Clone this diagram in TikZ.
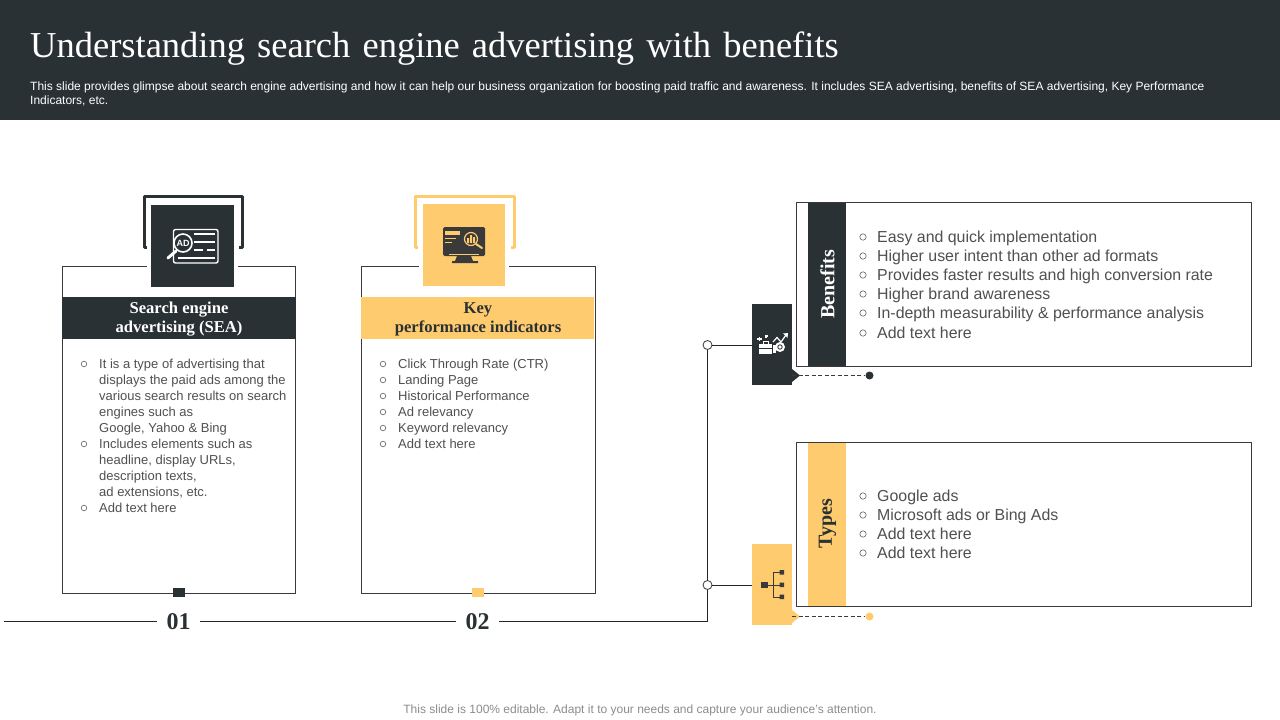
\documentclass[tikz,border=0pt]{standalone}
\usepackage{fontspec}
\setmainfont{Liberation Serif}
\setsansfont{Liberation Sans}
\definecolor{slate}{HTML}{293134}
\definecolor{honey}{HTML}{FFCB6F}
\definecolor{ink}{HTML}{3A3A3A}
\definecolor{bodygrey}{HTML}{505050}
\tikzset{
    panel/.style = {draw = ink, line width = 0.9pt, fill = white},
    bandtext/.style = {font = \rmfamily\bfseries\fontsize{16.6}{19}\selectfont, align = center, inner sep = 0pt},
    sidetext/.style = {font = \rmfamily\bfseries\fontsize{20}{22}\selectfont, rotate = 90, inner sep = 0pt},
    smalltext/.style = {font = \sffamily\fontsize{13}{14}\selectfont, text = bodygrey, anchor = base west, inner sep = 0pt},
    bigtext/.style = {font = \sffamily\fontsize{15.9}{18}\selectfont, text = bodygrey, anchor = base west, inner sep = 0pt},
    numtext/.style = {font = \rmfamily\bfseries\fontsize{24}{26}\selectfont, text = slate, minimum width = 43pt, inner sep = 0pt},
    joint/.style = {circle, draw = ink, fill = white, line width = 0.8pt, minimum size = 9pt, inner sep = 0pt},
    tip/.style = {circle, minimum size = 8pt, inner sep = 0pt},
    wire/.style = {draw = black!85, line width = 0.9pt},
    mark bullet/.style = {draw = ink!80, line width = 0.6pt}
}
\begin{document}
\begin{tikzpicture}[x=1pt, y=-1pt]
    \useasboundingbox (0,0) rectangle (1280,720);
    % header
    \fill[slate] (0,0) rectangle (1280,120);
    \node (title) at (30,49) [anchor = west, inner sep = 0pt, text = white, font = \fontsize{36.5}{40}\selectfont] {Understanding\hspace{3pt} search\hspace{3pt} engine\hspace{3pt} advertising\hspace{3pt} with\hspace{3pt} benefits};
    \node (intro) at (30,94) [anchor = west, inner sep = 0pt, text = white, align = left, font = \sffamily\fontsize{12}{14}\selectfont] {This slide provides glimpse about search engine advertising and how it can help our business organization for boosting paid traffic and awareness. It includes SEA advertising, benefits of SEA advertising, Key Performance\\Indicators, etc.};
    \node (foot) at (640,710) [inner sep = 0pt, text = black!45, font = \sffamily\fontsize{12}{14}\selectfont] {This slide is 100\% editable. Adapt it to your needs and capture your audience's attention.};

    % left cards
    \draw[slate, line width = 3pt, line join = round] (147,247) -- (144,247) -- (144,196) -- (242,196) -- (242,247) -- (239,247);
    \draw[honey, line width = 3pt, line join = round] (418,247) -- (415,247) -- (415,196) -- (514,196) -- (514,247) -- (511,247);
    \draw[panel] (62,266) rectangle (295.5,593.5);
    \draw[panel] (361.5,266) rectangle (595.5,593.5);
    \fill[white] (147,260) rectangle (238,290);
    \fill[white] (419,260) rectangle (509,290);
    \fill[slate] (151,205) rectangle (234,287);
    \fill[honey] (423,204) rectangle (505,286);
    \fill[slate] (62,297) rectangle (296,339);
    \fill[honey] (361,297) rectangle (594,339);
    \fill[slate] (173,588) rectangle (185,597);
    \fill[honey] (472,588) rectangle (484,597);
    \node (seaHead) at (179,319.5) [bandtext, text = white] {Search engine\\advertising (SEA)};
    \node (kpiHead) at (478,319.5) [bandtext, text = slate] {Key\\performance indicators};

    % ad icon
    \draw[white, line width = 1.4pt, rounded corners = 2pt] (173.5,229.5) rectangle (218,263);
    \draw[white, line width = 1.4pt] (194,234) -- (215,234) (194,242) -- (215,242) (194,250) -- (203,250) (207,250) -- (215,250) (178,258) -- (215,258);
    \draw[white, line width = 3pt, line cap = round] (176,251) -- (168,258);
    \draw[white, fill = slate, line width = 1.6pt] (183,243) circle (9);
    \node (adMark) at (183,243) [inner sep = 0pt, text = white, font = \sffamily\bfseries\fontsize{9}{9}\selectfont] {AD};

    % monitor icon
    \fill[ink, rounded corners = 1.5pt] (443,227) rectangle (485,256);
    \fill[ink] (457,256) -- (471,256) -- (473,261) -- (478,261) -- (478,263) -- (452,263) -- (452,261) -- (455,261) -- cycle;
    \fill[honey] (445,231) rectangle (460,235);
    \draw[honey, line width = 1pt] (445,238) -- (456,238) (445,242) -- (452,242) (449,254) -- (479,254);
    \draw[honey, line width = 1.2pt] (471,239) circle (6.5);
    \draw[honey, line width = 2pt, line cap = round] (476,244) -- (482,248);
    \fill[honey] (467,238) rectangle (469,243) (470,235) rectangle (472,243) (473,237) rectangle (475,243);

    % left texts
    \foreach \ypos in {364,444,508} \draw[mark bullet] (84,\ypos) circle (2.8);
    \foreach \ypos in {364,380,396,412,428,444} \draw[mark bullet] (383,\ypos) circle (2.8);
    \foreach \name/\ypos/\txt in {
        seaA/368/It is a type of advertising that,
        seaB/384/displays the paid ads among the,
        seaC/400/various search results on search,
        seaD/416/engines such as,
        seaE/432/{Google, Yahoo \& Bing},
        seaF/448/Includes elements such as,
        seaG/464/{headline, display URLs,},
        seaH/480/{description texts,},
        seaI/496/{ad extensions, etc.},
        seaJ/512/Add text here}
        \node (\name) at (99,\ypos) [smalltext] {\txt};
    \foreach \name/\ypos/\txt in {
        kpiA/368/Click Through Rate (CTR),
        kpiB/384/Landing Page,
        kpiC/400/Historical Performance,
        kpiD/416/Ad relevancy,
        kpiE/432/Keyword relevancy,
        kpiF/448/Add text here}
        \node (\name) at (398,\ypos) [smalltext] {\txt};

    % right cards
    \draw[panel] (796.5,202.5) rectangle (1251.5,366.5);
    \draw[panel] (796.5,442.5) rectangle (1251.5,606.5);
    \fill[slate] (808,203) rectangle (846,366);
    \fill[honey] (808,443) rectangle (846,606);
    \node (benefitsHead) at (827.5,284) [sidetext, text = white] {Benefits};
    \node (typesHead) at (827.5,524) [sidetext, text = slate] {Types};
    \foreach \ypos in {237,256,275,294,313,333,496,515,534,553} \draw[mark bullet] (863,\ypos) circle (3.2);
    \foreach \name/\ypos/\txt in {
        benA/242/Easy and quick implementation,
        benB/261/Higher user intent than other ad formats,
        benC/280/Provides faster results and high conversion rate,
        benD/299/Higher brand awareness,
        benE/318/In-depth measurability \& performance analysis,
        benF/338/Add text here,
        typA/501/Google ads,
        typB/520/Microsoft ads or Bing Ads,
        typC/539/Add text here,
        typD/558/Add text here}
        \node (\name) at (877,\ypos) [bigtext] {\txt};

    % timeline
    \coordinate (lineStart) at (4,621);
    \coordinate (lineCorner) at (707.5,621);
    \node (numA) at (178.5,621.5) [numtext] {01};
    \node (numB) at (477.5,621.5) [numtext] {02};
    \node (tileA) at (772,344.5) [fill = slate, minimum width = 40pt, minimum height = 81pt, inner sep = 0pt] {};
    \node (tileB) at (772,584.5) [fill = honey, minimum width = 40pt, minimum height = 81pt, inner sep = 0pt] {};
    \node (jointA) at (707.5,345) [joint] {};
    \node (jointB) at (707.5,585) [joint] {};
    \node (tipA) at (869.5,375.5) [tip, fill = slate] {};
    \node (tipB) at (869.5,616.5) [tip, fill = honey] {};
    \coordinate (tailA) at (792,375.5);
    \coordinate (tailB) at (792,616.5);
    \fill[slate] (792,369) -- (800,375.5) -- (792,382) -- cycle;
    \fill[honey] (792,610) -- (800,616.5) -- (792,623) -- cycle;
    \draw[wire] (lineStart) -- (lineStart -| numA.west);
    \draw[wire] (numA.east |- lineStart) -- (numB.west |- lineStart);
    \draw[wire] (numB.east |- lineStart) -- (lineCorner) -- (jointB);
    \draw[wire] (jointB) -- (jointA);
    \draw[wire] (jointA) -- (jointA -| tileA.west);
    \draw[wire] (jointB) -- (jointB -| tileB.west);
    \draw[ink, dashed, line width = 0.8pt, dash pattern = on 4pt off 2.5pt] (tailA) -- (tipA);
    \draw[ink, dashed, line width = 0.8pt, dash pattern = on 4pt off 2.5pt] (tailB) -- (tipB);

    % briefcase icon
    \fill[white] (759,344) rectangle (772,354);
    \draw[white, line width = 0.8pt] (763,344) -- (763,341.5) -- (768,341.5) -- (768,344);
    \draw[slate, line width = 0.7pt] (759,348) -- (772,348);
    \fill[white] (772.5,345) rectangle (776,353);
    \fill[white] (780,347) circle (5);
    \draw[slate, line width = 0.8pt] (780,347) circle (2.2);
    \draw[white, line width = 1.2pt] (773,342) -- (777,337.5) -- (781,342) -- (786,335);
    \fill[white] (788,333) -- (783,333.5) -- (787.5,338) -- cycle;
    \draw[white, line width = 1.1pt] (757,339) -- (761.5,339) (759.25,336.75) -- (759.25,341.25) (764.5,336) -- (767.5,336) (766,334.5) -- (766,337.5);

    % hierarchy icon
    \draw[ink, line width = 0.8pt] (767,585) -- (782,585) (782,572.5) -- (773.5,572.5) -- (773.5,597) -- (782,597);
    \fill[ink] (761,582) rectangle (767.5,588);
    \fill[ink] (779.5,570) rectangle (784,574.5) (779.5,582.5) rectangle (784,587) (779.5,594.5) rectangle (784,599);
\end{tikzpicture}
\end{document}
